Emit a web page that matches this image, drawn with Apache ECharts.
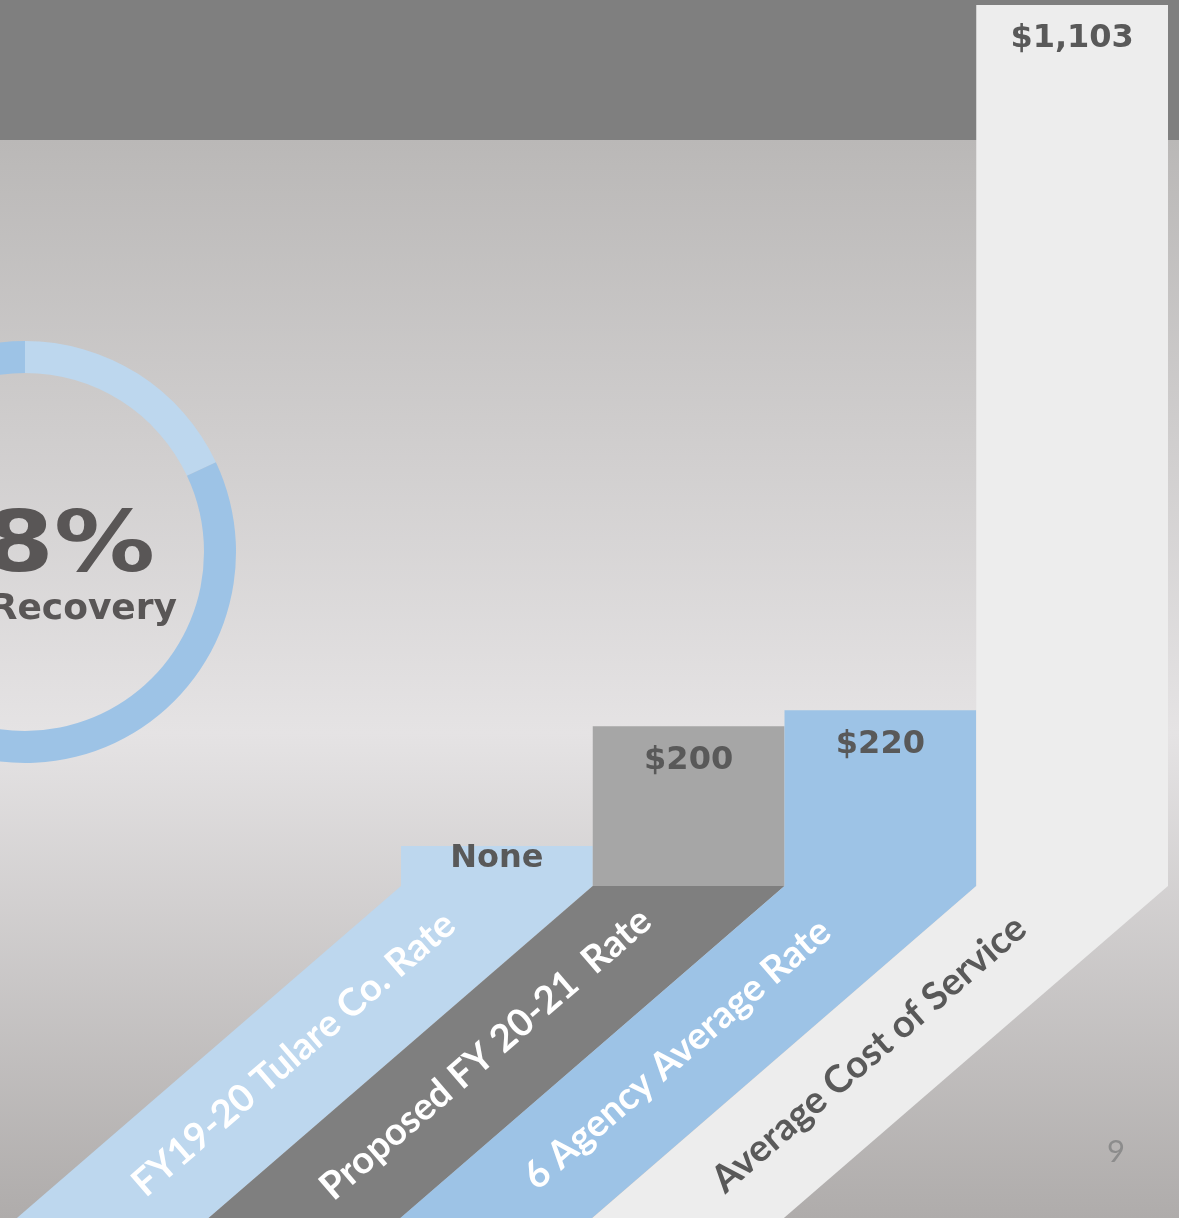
<!DOCTYPE html>
<html><head><meta charset="utf-8">
<script src="https://cdn.jsdelivr.net/npm/echarts@6/dist/echarts.min.js"></script>
<style>html,body{margin:0;padding:0;overflow:hidden;background:#bab8b7}#c{width:1179px;height:1218px}</style>
</head><body><div id="c"></div>
<script>
// ---- data ----
const categories = ['FY19-20 Tulare Co. Rate', 'Proposed FY 20-21  Rate', '6 Agency Average Rate', 'Average Cost of Service'];
const rateValues = [0, 200, 220, 1103];
const valueLabels = ['None', '$200', '$220', '$1,103'];
const recoveryNames = ['Recovered', 'Not recovered'];
const recoveryValues = [18, 82];
const recoveryText = '18%';
const recoverySubText = 'Recovery';
const pageNumber = '9';

// ---- styles ----
const barColors = ['#bdd7ee', '#a6a6a6', '#9dc3e6', '#ededed'];
const ribbonColors = ['#bdd7ee', '#7f7f7f', '#9dc3e6', '#ededed'];
const ribbonTextColors = ['#ffffff', '#ffffff', '#ffffff', '#595959'];
const donutColors = ['#bdd7ee', '#9dc3e6'];
const slope = 1.157;

const chart = echarts.init(document.getElementById('c'), null, {renderer: 'canvas'});

const option = {
  animation: false,
  graphic: [
    {type: 'rect', z: 0, silent: true, shape: {x: 0, y: 140, width: 1179, height: 1078},
      style: {fill: new echarts.graphic.LinearGradient(0, 0, 0, 1, [
        {offset: 0, color: '#bab8b7'},
        {offset: 0.55, color: '#e5e3e4'},
        {offset: 1, color: '#afacab'}
      ])}},
    {type: 'rect', z: 0, silent: true, shape: {x: 0, y: 0, width: 1179, height: 140}, style: {fill: '#7f7f7f'}},
    {type: 'text', z: 1, silent: true, x: 155, y: 549, scaleX: 1.2,
      style: {text: recoveryText, fill: '#595656', font: 'bold 84px "DejaVu Sans"', align: 'right', verticalAlign: 'middle'}},
    {type: 'text', z: 1, silent: true, x: 177, y: 610,
      style: {text: recoverySubText, fill: '#595656', font: 'bold 36px "DejaVu Sans"', align: 'right', verticalAlign: 'middle'}},
    {type: 'text', z: 1, silent: true, x: 1116, y: 1152,
      style: {text: pageNumber, fill: '#8c8c8c', font: '31px Lato', align: 'center', verticalAlign: 'middle'}}
  ],
  grid: {left: 401, right: 11, top: 5, bottom: 332},
  xAxis: {type: 'category', data: categories, show: false},
  yAxis: {type: 'value', min: 0, max: 'dataMax', show: false},
  series: [
    {
      type: 'bar',
      barWidth: '100%',
      barMinHeight: 40,
      silent: true,
      data: rateValues.map((v, i) => ({
        value: v,
        itemStyle: {color: barColors[i]},
        label: i === 0 ? {offset: [0, -21]} : {}
      })),
      label: {
        show: true, position: 'insideTop', distance: 18,
        formatter: p => valueLabels[p.dataIndex],
        fontFamily: 'DejaVu Sans', fontWeight: 'bold', fontSize: 32, color: '#595959'
      }
    },
    {
      type: 'custom',
      silent: true,
      clip: false,
      data: categories.map((c, i) => [i, 0]),
      renderItem: function (params, api) {
        const i = api.value(0);
        const p = api.coord([i, 0]);
        const bw = api.size([1, 0])[0];
        const h = api.getHeight() - p[1];
        const dx = slope * h;
        const x0 = p[0] - bw / 2, x1 = p[0] + bw / 2, y0 = p[1], y1 = p[1] + h;
        const ang = Math.atan2(1, slope);
        return {
          type: 'group',
          children: [
            {type: 'polygon', shape: {points: [[x0, y0], [x1, y0], [x1 - dx, y1], [x0 - dx, y1]]},
              style: {fill: ribbonColors[i]}},
            {type: 'text', x: p[0] - dx / 2 - 11, y: y0 + h / 2 + 2, rotation: ang,
              style: {text: categories[i], fill: ribbonTextColors[i], font: 'bold 38px Lato',
                align: 'center', verticalAlign: 'middle'}}
          ]
        };
      }
    },
    {
      type: 'pie',
      silent: true,
      center: [25, 552],
      radius: [179, 211],
      startAngle: 90,
      clockwise: true,
      label: {show: false},
      labelLine: {show: false},
      data: recoveryValues.map((v, i) => ({name: recoveryNames[i], value: v, itemStyle: {color: donutColors[i]}}))
    }
  ]
};
chart.setOption(option);
</script>
</body></html>
